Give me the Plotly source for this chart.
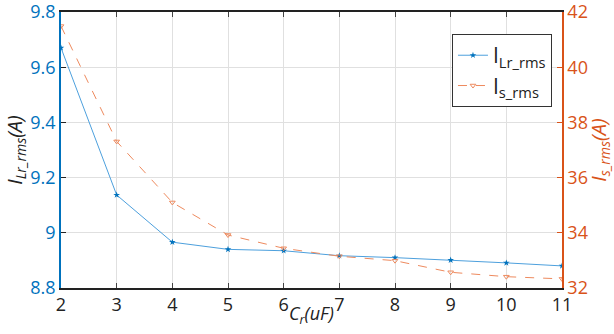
import plotly.graph_objects as go

cr = [2, 3, 4, 5, 6, 7, 8, 9, 10, 11]
i_lr_rms = [9.67, 9.137, 8.966, 8.94, 8.935, 8.917, 8.910, 8.901, 8.891, 8.880]
i_s_rms = [41.49, 37.31, 35.10, 33.92, 33.44, 33.15, 32.99, 32.57, 32.41, 32.33]

BLUE_AX = "#0072BD"
ORANGE_AX = "#D95319"
BLUE_LN = "#4DA0DD"
ORANGE_LN = "#EE8A5E"
FONT = "Open Sans"

fig = go.Figure()
fig.add_trace(go.Scatter(
    x=cr, y=i_lr_rms, mode="lines+markers", name="I<sub>Lr_rms</sub>",
    line=dict(color=BLUE_LN, width=1),
    marker=dict(symbol="star", size=5, color=BLUE_AX),
    yaxis="y"))
fig.add_trace(go.Scatter(
    x=cr, y=i_s_rms, mode="lines+markers", name="I<sub>s_rms</sub>",
    line=dict(color=ORANGE_LN, width=1, dash="dash"),
    marker=dict(symbol="triangle-down-open", size=5, color=ORANGE_LN),
    yaxis="y2"))

fig.update_layout(
    width=614, height=334,
    margin=dict(l=61, r=52, t=12, b=46),
    plot_bgcolor="white", paper_bgcolor="white",
    font=dict(family=FONT, size=18, color="#222"),
    showlegend=True,
    legend=dict(x=0.98, y=0.92, xanchor="right", yanchor="top",
                bgcolor="white", bordercolor="#333", borderwidth=1,
                font=dict(size=21, color="#222"), tracegroupgap=0,
                itemwidth=30),
    xaxis=dict(range=[2, 11], tickvals=cr, ticks="inside", ticklen=5,
               automargin=False, ticklabeloverflow="allow",
               showline=True, linecolor="#222", linewidth=1.5, mirror="ticks",
               showgrid=True, gridcolor="#E0E0E0", zeroline=False,
               tickfont=dict(size=18, color="#222")),
    yaxis=dict(range=[8.8, 9.8], tickvals=[8.8, 9.0, 9.2, 9.4, 9.6, 9.8],
               ticktext=["8.8", "9", "9.2", "9.4", "9.6", "9.8"],
               automargin=False, ticklabeloverflow="allow",
               ticks="inside", ticklen=5, showline=True, linecolor=BLUE_AX,
               linewidth=1.5, showgrid=True, gridcolor="#E0E0E0", zeroline=False,
               tickfont=dict(size=18, color=BLUE_AX), tickcolor="#222",
               title=dict(text="<i>I<sub>Lr_rms</sub>(A)</i>", standoff=2,
                          font=dict(size=20, color="#222"))),
    yaxis2=dict(range=[32, 42], tickvals=[32, 34, 36, 38, 40, 42],
                automargin=False, ticklabeloverflow="allow",
                overlaying="y", side="right", ticks="inside", ticklen=5,
                showline=True, linecolor=ORANGE_AX, linewidth=1.5,
                tickcolor=ORANGE_AX, showgrid=False, zeroline=False,
                tickfont=dict(size=18, color=ORANGE_AX),
                title=dict(text="<i>I<sub>s_rms</sub>(A)</i>", standoff=2,
                           font=dict(size=20, color=ORANGE_AX))),
    annotations=[dict(text="<i>C<sub>r</sub>(uF)</i>", xref="paper", yref="paper",
                      x=0.5, y=-0.095, xanchor="center", yanchor="middle",
                      showarrow=False, font=dict(size=18, color="#222"))],
)

fig.write_html("out.html")
